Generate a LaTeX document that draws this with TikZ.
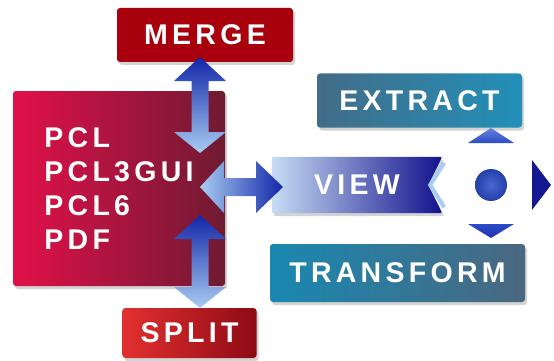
\documentclass[tikz,border=0pt]{standalone}
\usepackage{fontspec}
\setmainfont{Liberation Sans}[LetterSpace=15]
\usetikzlibrary{calc,shadows}

\definecolor{mainL}{HTML}{E2104A}
\definecolor{mainR}{HTML}{6F1A32}
\definecolor{mergeD}{HTML}{A8000C}
\definecolor{mergeM}{HTML}{F23444}
\definecolor{splitL}{HTML}{E23030}
\definecolor{splitR}{HTML}{8E0A14}
\definecolor{extractL}{HTML}{436C88}
\definecolor{extractR}{HTML}{2290B8}
\definecolor{transformL}{HTML}{1A88B0}
\definecolor{transformR}{HTML}{4A6780}
\definecolor{viewL}{HTML}{C6DCF4}
\definecolor{viewR}{HTML}{12128C}
\definecolor{arrD}{HTML}{1226A8}
\definecolor{arrL}{HTML}{A8CCF2}
\definecolor{dotblue}{HTML}{2A4CC8}

\tikzset{
  box/.style={rounded corners=3pt, inner sep=0pt, text=white,
    font=\fontsize{28.5}{34}\selectfont\bfseries,
    drop shadow={shadow xshift=2pt, shadow yshift=-3pt, opacity=.35}},
}

% double arrows, #1 / #2 are the two tips
\newcommand{\varrow}[3]{%
  \shade[#3] (#1) -- ++(26,24) -- ++(-17.5,0) -- ($(#2)+(8.5,-21)$) -- ++(17.5,0)
    -- (#2) -- ++(-26,-21) -- ++(17.5,0) -- ($(#1)+(-8.5,24)$) -- ++(-17.5,0) -- cycle;}
\newcommand{\harrow}[3]{%
  \shade[#3] (#1) -- ++(24,-26) -- ++(0,17) -- ($(#2)+(-27,-9)$) -- ++(0,-17)
    -- (#2) -- ++(-27,26) -- ++(0,-17) -- ($(#1)+(24,9)$) -- ++(0,17) -- cycle;}

\begin{document}
\begin{tikzpicture}[x=1pt, y=-1pt]
  \useasboundingbox (0,0) rectangle (554,361);

  \node[box, minimum width=212, minimum height=195, left color=mainL, right color=mainR,
        align=left] (formats) at (119,188.5) {PCL\\PCL3GUI\\PCL6\\PDF};
  \node[box, minimum width=176, minimum height=54, left color=mergeD, middle color=mergeM,
        right color=mergeD] (merge) at (205,35) {MERGE};
  \node[box, minimum width=134, minimum height=50, left color=splitL,
        right color=splitR] (split) at (189.5,333) {SPLIT};
  \node[box, minimum width=205, minimum height=54, left color=extractL,
        right color=extractR] (extract) at (419.5,100.5) {EXTRACT};
  \node[box, minimum width=255, minimum height=58, left color=transformL,
        right color=transformR] (transform) at (397.5,273) {TRANSFORM};

  % view box with notch
  \node[inner sep=0pt, minimum width=170, minimum height=56] (view) at (357,185) {};
  \shade[left color=viewL, right color=viewR, rounded corners=2pt,
         drop shadow={shadow xshift=2pt, shadow yshift=-3pt, opacity=.35}]
    (view.north west) -- (view.north east) -- ($(view.east)+(-14,0)$)
    -- (view.south east) -- (view.south west) -- cycle;
  \draw[arrL, line width=4pt, line join=miter]
    ($(view.north east)+(2,6)$) -- ($(view.east)+(-12,0)$) -- ($(view.south east)+(2,-6)$);
  \node[text=white, font=\fontsize{28.5}{34}\selectfont\bfseries] (viewtext) at (view) {VIEW};

  % arrows
  \coordinate (mergetip) at (200,57);
  \coordinate (formtop) at (200,153);
  \coordinate (formbot) at (200,215);
  \coordinate (splittip) at (200,308);
  \coordinate (formright) at (200,187);
  \coordinate (viewtip) at (283,187);
  \varrow{mergetip}{formtop}{top color=arrD, bottom color=arrL}
  \varrow{formbot}{splittip}{top color=arrD, bottom color=arrL}
  \harrow{formright}{viewtip}{left color=arrL, right color=arrD}

  % navigation pad
  \node[circle, minimum size=32, inner sep=0pt, inner color=dotblue!85!white,
        outer color=dotblue!85!black] (dot) at (491,185) {};
  \shade[top color=dotblue!70, bottom color=dotblue] ($(dot)+(0,-57)$) -- ++(23,15) -- ++(-46,0) -- cycle;
  \shade[top color=dotblue, bottom color=dotblue!60!viewR] ($(dot)+(0,53)$) -- ++(23,-14) -- ++(-46,0) -- cycle;
  \fill[viewR!90!dotblue] ($(dot)+(60,0)$) -- ++(-19,-25) -- ++(0,50) -- cycle;
\end{tikzpicture}
\end{document}
